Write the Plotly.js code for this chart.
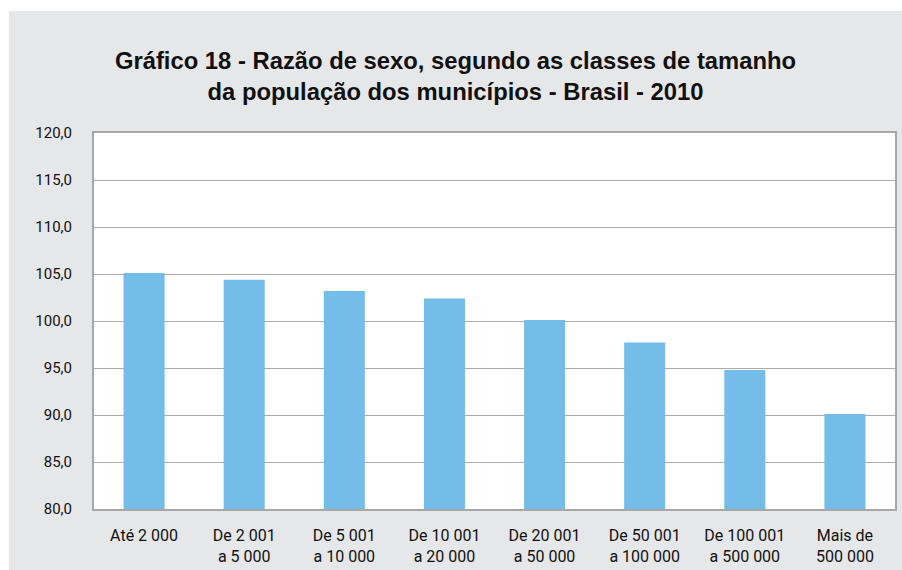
<!DOCTYPE html>
<html>
<head>
<meta charset="utf-8">
<script src="https://cdn.plot.ly/plotly-3.0.1.min.js"></script>
<style>
  html, body { margin: 0; padding: 0; background: #ffffff; }
  #chart { position: absolute; left: 9px; top: 11px; width: 893px; height: 559px; }
</style>
</head>
<body>
<div id="chart"></div>
<script>
const categories = [
  "Até 2 000",
  "De 2 001<br>a 5 000",
  "De 5 001<br>a 10 000",
  "De 10 001<br>a 20 000",
  "De 20 001<br>a 50 000",
  "De 50 001<br>a 100 000",
  "De 100 001<br>a 500 000",
  "Mais de<br>500 000"
];
const sexRatio = [105.1, 104.4, 103.2, 102.4, 100.1, 97.7, 94.8, 90.1];
const yTicks = [80, 85, 90, 95, 100, 105, 110, 115, 120];
const titleText = "Gráfico 18 - Razão de sexo, segundo as classes de tamanho<br>da população dos municípios - Brasil - 2010";

const titleFont = "'Liberation Sans', Arial, sans-serif";
const tickFont = "Roboto, 'Liberation Sans', sans-serif";

const trace = {
  type: "bar",
  x: categories,
  y: sexRatio,
  marker: { color: "#74bde8", line: { width: 0 } },
  hoverinfo: "x+y"
};

const layout = {
  width: 893,
  height: 559,
  paper_bgcolor: "#e6e7e8",
  plot_bgcolor: "#ffffff",
  margin: { l: 85, r: 7, t: 122, b: 61 },
  separators: ",.",
  bargap: 0.59,
  showlegend: false,
  title: {
    text: titleText,
    font: { family: titleFont, size: 23.8, color: "#111111", weight: "bold" },
    x: 0.5, xanchor: "center",
    y: 0.896, yanchor: "middle"
  },
  xaxis: {
    type: "category",
    showgrid: false,
    showline: true, mirror: true, linecolor: "#a7a7a7", linewidth: 2,
    ticks: "", ticklabelstandoff: 11,
    tickfont: { family: tickFont, size: 16, color: "#111111" },
    fixedrange: true
  },
  yaxis: {
    range: [80, 120],
    tickvals: yTicks,
    tickformat: ".1f",
    showgrid: true, gridcolor: "#ababab", gridwidth: 1,
    showline: true, mirror: true, linecolor: "#a7a7a7", linewidth: 2,
    zeroline: false,
    ticks: "", ticklabelstandoff: 17,
    tickfont: { family: tickFont, size: 15, color: "#111111" },
    fixedrange: true
  }
};

Plotly.newPlot("chart", [trace], layout, { displayModeBar: false, staticPlot: true });
</script>
</body>
</html>
